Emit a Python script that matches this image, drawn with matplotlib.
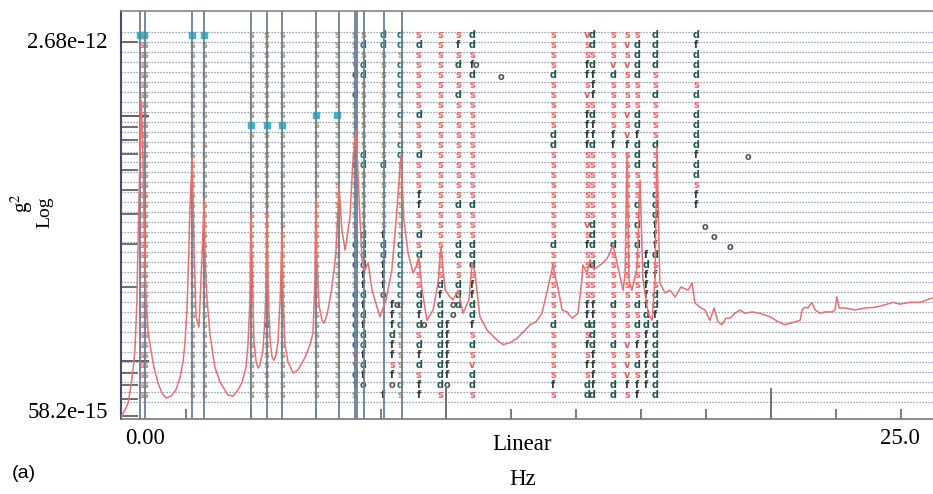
import numpy as np
import matplotlib
matplotlib.use('Agg')
from matplotlib import pyplot as plt
from matplotlib.ticker import FixedLocator, LogLocator, MultipleLocator, NullFormatter

# 频谱曲线 (Hz, 单位 1e-13 g^2)
freq = [0.00, 0.12, 0.22, 0.31, 0.37, 0.43, 0.49, 0.52, 0.58, 0.62, 0.68, 0.71, 0.77, 0.83, 0.92,
        1.02, 1.14, 1.26, 1.39, 1.54, 1.69, 1.82, 1.91, 1.97, 2.03, 2.09, 2.12, 2.19, 2.25, 2.31,
        2.40, 2.46, 2.56, 2.59, 2.65, 2.74, 2.89, 3.05, 3.29, 3.45, 3.60, 3.73, 3.85, 3.91, 3.97,
        4.00, 4.06, 4.09, 4.16, 4.22, 4.28, 4.37, 4.43, 4.46, 4.49, 4.53, 4.59, 4.65, 4.71, 4.77,
        4.83, 4.90, 4.96, 4.99, 5.05, 5.14, 5.30, 5.45, 5.67, 5.82, 5.91, 5.97, 6.00, 6.03, 6.10,
        6.19, 6.25, 6.34, 6.47, 6.56, 6.62, 6.68, 6.71, 6.80, 6.90, 7.05, 7.14, 7.24, 7.33, 7.42,
        7.51, 7.61, 7.73, 7.91, 7.97, 8.16, 8.34, 8.47, 8.62, 8.71, 8.84, 8.99, 9.08, 9.17, 9.27,
        9.42, 9.61, 9.76, 9.85, 9.98, 10.13, 10.22, 10.38, 10.53, 10.71, 10.81, 10.90, 11.05, 11.27,
        11.58, 11.76, 11.98, 12.19, 12.44, 12.59, 12.78, 12.96, 13.15, 13.30, 13.39, 13.45, 13.58,
        13.73, 13.89, 14.07, 14.19, 14.22, 14.35, 14.44, 14.56, 14.66, 14.84, 14.99, 15.15, 15.30,
        15.46, 15.52, 15.58, 15.64, 15.73, 15.89, 15.98, 16.07, 16.23, 16.35, 16.44, 16.50, 16.59,
        16.75, 16.90, 17.06, 17.24, 17.46, 17.58, 17.67, 17.83, 17.98, 18.13, 18.26, 18.38, 18.50,
        18.63, 18.75, 18.90, 19.06, 19.21, 19.43, 19.67, 19.98, 20.23, 20.44, 20.60, 20.91, 20.97,
        21.06, 21.15, 21.27, 21.37, 21.52, 21.67, 21.89, 21.98, 22.04, 22.11, 22.29, 22.60, 22.91,
        23.21, 23.52, 23.77, 23.98, 24.29, 24.60, 24.97]
psd_1e13 = [0.593, 0.633, 0.676, 0.801, 0.922, 1.11, 1.78, 2.84, 6.62, 11.6, 6.62, 3.77, 1.78, 1.34, 1.11,
            0.939, 0.815, 0.743, 0.709, 0.722, 0.764, 0.863, 0.994, 1.19, 1.62, 2.84, 4.14, 6.80, 2.84, 1.52,
            1.38, 2.09, 4.54, 2.59, 1.78, 1.28, 0.948, 0.823, 0.729, 0.722, 0.764, 0.823, 0.948, 1.17, 1.78,
            4.02, 1.78, 1.22, 0.994, 0.939, 0.966, 1.11, 1.47, 1.95, 4.02, 1.95, 1.22, 1.04, 1.01, 1.06,
            1.19, 1.78, 3.43, 1.78, 1.17, 0.994, 0.896, 0.922, 1.04, 1.17, 1.30, 2.15, 4.67, 2.59, 1.68,
            1.47, 1.43, 1.545, 1.90, 2.36, 2.84, 4.14, 5.23, 3.43, 2.84, 3.88, 6.62, 8.77, 4.54, 2.59,
            2.36, 2.52, 1.95, 1.62, 1.52, 1.78, 2.36, 3.77, 6.94, 3.77, 2.76, 2.29, 2.42, 2.66, 1.95,
            1.47, 1.62, 2.09, 2.92, 1.95, 1.83, 1.78, 1.95, 1.57, 1.78, 2.52, 2.29, 1.52, 1.34,
            1.22, 1.17, 1.19, 1.24, 1.34, 1.41, 1.45, 1.57, 2.01, 2.47, 2.15, 2.01, 1.62,
            1.59, 1.50, 1.57, 2.15, 2.47, 2.29, 2.59, 2.36, 2.42, 2.52, 2.66, 2.98, 2.42,
            1.95, 2.29, 7.07, 2.15, 1.95, 2.42, 5.48, 2.15, 1.57, 1.47, 2.15, 7.48, 2.09,
            1.90, 1.95, 1.83, 2.01, 1.95, 2.09, 1.73, 1.66, 1.62, 1.47, 1.65, 1.45, 1.41,
            1.50, 1.50, 1.57, 1.62, 1.57, 1.59, 1.57, 1.52, 1.45, 1.41, 1.43, 1.47, 1.62,
            1.66, 1.65, 1.74, 1.62, 1.57, 1.59, 1.59, 1.62, 1.83, 1.65, 1.65, 1.62, 1.65,
            1.66, 1.70, 1.74, 1.71, 1.74, 1.74, 1.81]

# 已选极点 (竖线)
sel_freq = [0.60, 0.74, 2.19, 2.56, 4.00, 4.49, 4.96, 6.00, 6.71, 7.20, 7.27, 7.48, 8.10, 8.65]
# 青色选中标记: 频率, 行 (从上往下)
pick_freq = [0.60, 0.72, 2.19, 2.56, 4.00, 4.49, 4.96, 6.00, 6.65]
pick_row = [0, 0, 0, 0, 9, 9, 9, 8, 8]

# 稳定图: 每列频率 + 37 行符号 (从上往下)
col_freq = [0.62, 0.74, 2.19, 2.56, 4.00, 4.49, 4.96, 6.00, 6.65, 7.20, 7.45, 8.07, 8.59,
            8.35, 9.17, 9.82, 10.03, 10.38, 10.81, 13.30, 14.35, 14.52, 15.15, 15.58, 15.89,
            16.17, 16.44, 17.70]
col_marks = [
    's' * 37,
    's' * 37,
    's' * 37,
    's' * 37,
    's' * 37,
    's' * 29 + 'd' + 's' * 7,
    's' * 37,
    's' * 37,
    's' * 37,
    'sssvdsdsssss' + 'sdsssssssdddssddddddvvdfs',
    'sdsddsssssss' + 'ddssssssddddffdfdfddfdfo ',
    'ddssssssssss' + 'sdssssssfddfffo' + '         f',
    'ddsddddsdssd' + 'dssssssssdddddddsdsssssds',
    ' ' * 27 + 'fffdffsfo ',
    'sdssssssdsss' + 'dsssffssdsdsssddfdsdfdsff',
    's' * 25 + 'df' + 'd' * 9 + 's',
    ' ' * 29 + 'ffffffo ',
    'sfsdssdsssss' + 'sssssdsssddssddd' + ' ' * 9,
    'ddsfdsssssss' + 'sssssdsssdddsffddfsdsvdds',
    'ssssdsssss' + 'dd' + 's' * 9 + 'd' + 's' * 7 + 'd' + 'sssss' + 'fs',
    'vssffsvsffffsssssssvsfsssssffdsfsfsdd',
    'ddsdfffsdffdsssssssdddsdsssffdddffffd',
    'sssvdsssssffsssssssssdsssssdsssdsssdd',
    'svsvssssvsvfssssss' + 'ssss' + 'sssssssssvsvvfs',
    'sddddsssddfdddsssd' + 'sdsd' + 'sssssdsdsfsdsff',
    ' ' * 22 + 'fdffffddffffff ',
    'ddddssdssssdsdssddd' + 'fff' + 'dsfsddfdddddddd',
    'dfdddsdsddddfddsff' + ' ' * 19,
]
n_sel_cols = 13   # 前 13 列落在已选极点上

# 零散的 o
o_freq = [10.93, 11.70, 19.30, 17.98, 18.26, 18.75, 10.22, 10.22, 8.50, 9.33]
o_row = [3, 4.2, 12.2, 19.2, 20.2, 21.2, 27, 28, 27, 29]

n_lines = 38
serif = ['Liberation Serif', 'DejaVu Serif']
plt.rcParams['mathtext.fontset'] = 'stix'

fig = plt.figure(figsize=(9.33, 4.94), dpi=100)
ax = fig.add_axes([121 / 933, 75 / 494, 812 / 933, 408 / 494])
ax2 = ax.twinx()
ax.set_zorder(2)
ax2.set_zorder(1)
ax.patch.set_visible(False)

# 稳定图层
ax2.set_ylim(-1.7, 39.1)
for k in range(n_lines):
    ax2.axhline(k, color='#7a89b0', lw=0.9, ls=(0, (1, 1.4)), zorder=0)

colors = {'s': '#ee6363', 'd': '#24574b', 'f': '#343f38', 'v': '#e05a5a', 'o': '#505050'}
for i, (f, marks) in enumerate(zip(col_freq, col_marks)):
    for r, ch in enumerate(marks[:37]):
        if ch == ' ':
            continue
        c = colors[ch]
        if i < n_sel_cols:
            c = {'s': '#a8956a', 'd': '#2a746e'}.get(ch, c)
        if i == 0:
            c = '#e37272'
        ax2.text(f, 36.7 - r, ch, ha='center', va='center', fontsize=7,
                 fontweight='bold', color=c, zorder=2)
for f, r in zip(o_freq, o_row):
    ax2.text(f, 36.7 - r, 'o', ha='center', va='center', fontsize=7,
             fontweight='bold', color=colors['o'], zorder=2)
ax2.plot(pick_freq, [36.7 - r for r in pick_row], 's', ms=4.5, color='#37b7c4', zorder=3)
ax2.set_yticks([])
for s in ax2.spines.values():
    s.set_visible(False)

# 频谱和极点线
for f in sel_freq:
    ax.axvline(f, color='#6c7e96', lw=1.3, zorder=3)
ax.plot(freq, np.array(psd_1e13) * 1e-13, color='#e8706f', lw=1.1, zorder=4)

ax.set_xlim(0, 25)
ax.set_yscale('log')
ax.set_ylim(58.2e-15, 2.68e-12)
ax.xaxis.set_major_locator(FixedLocator([10, 20]))
ax.xaxis.set_minor_locator(MultipleLocator(2))
ax.yaxis.set_major_locator(FixedLocator([1e-13, 1e-12]))
ax.yaxis.set_minor_locator(LogLocator(base=10, subs=np.arange(2, 10)))
ax.yaxis.set_minor_formatter(NullFormatter())
ax.tick_params(axis='x', which='major', direction='in', length=22, width=1.3, color='#666',
               labelbottom=False)
ax.tick_params(axis='x', which='minor', direction='in', length=7, width=1.2, color='#666')
ax.tick_params(axis='y', which='major', direction='in', length=20, width=1.3, color='#555',
               labelleft=False)
ax.tick_params(axis='y', which='minor', direction='in', length=12, width=1.2, color='#555')

ax.spines['left'].set_color('#4a4a6a')
ax.spines['left'].set_linewidth(1.5)
ax.spines['bottom'].set_color('#777777')
ax.spines['bottom'].set_linewidth(1.2)
ax.spines['top'].set_color('#888888')
ax.spines['top'].set_linewidth(1.2)
ax.spines['right'].set_visible(False)

# 文字
fig.text(108 / 933, 1 - 43 / 494, '2.68e-12', ha='right', va='center', fontsize=16.5, family=serif)
fig.text(108 / 933, 1 - 412 / 494, '58.2e-15', ha='right', va='center', fontsize=16.5, family=serif)
fig.text(145 / 933, 1 - 438 / 494, '0.00', ha='center', va='center', fontsize=16.5, family=serif)
fig.text(900 / 933, 1 - 438 / 494, '25.0', ha='center', va='center', fontsize=16.5, family=serif)
fig.text(522 / 933, 1 - 444 / 494, 'Linear', ha='center', va='center', fontsize=16.5, family=serif)
fig.text(523 / 933, 1 - 479 / 494, 'Hz', ha='center', va='center', fontsize=16.5, family=serif)
fig.text(22 / 933, 1 - 203 / 494, 'g$^2$', ha='center', va='center', fontsize=15, rotation=90,
         family=serif)
fig.text(45 / 933, 1 - 212 / 494, 'Log', ha='center', va='center', fontsize=14, rotation=90,
         family=serif)
fig.text(24 / 933, 1 - 473 / 494, '(a)', ha='center', va='center', fontsize=14,
         family=['Liberation Sans', 'DejaVu Sans'])

fig.savefig('out.png', dpi=100)
